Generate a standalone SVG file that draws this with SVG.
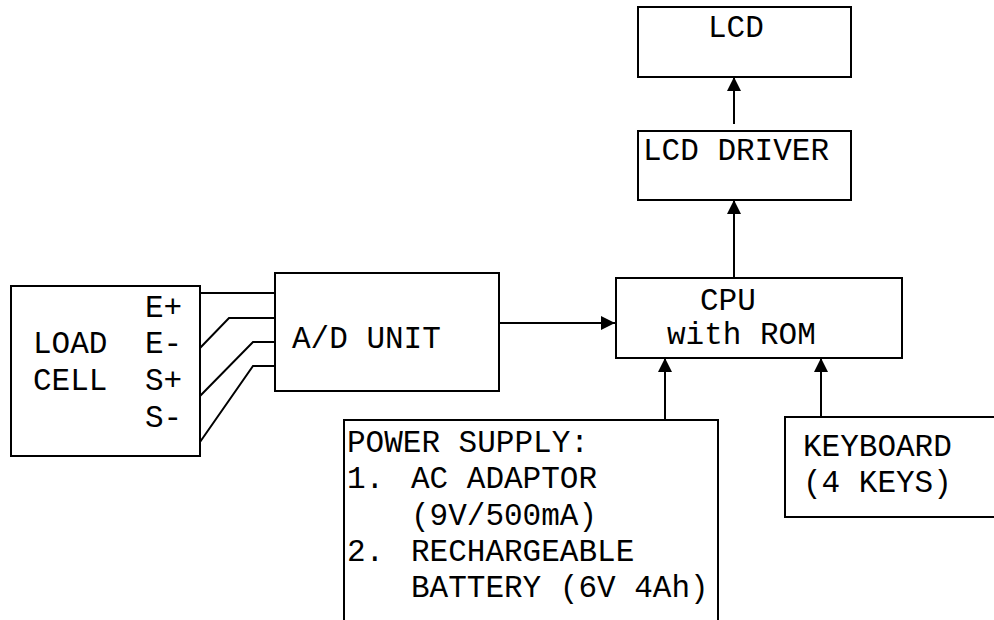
<svg xmlns="http://www.w3.org/2000/svg" width="994" height="620" viewBox="0 0 994 620">
<style>
.box{fill:#fff;stroke:#000;stroke-width:2}
.w{fill:none;stroke:#000;stroke-width:2}
text{font-family:"Liberation Mono","Courier New",monospace;font-size:31px;fill:#000}
</style>
<defs>
<marker id="ah" viewBox="0 0 14 14" refX="14" refY="7" markerWidth="14" markerHeight="14" markerUnits="userSpaceOnUse" orient="auto">
<path d="M0,0 L14,7 L0,14 Z" fill="#000"/>
</marker>
</defs>
<rect width="994" height="620" fill="#fff"/>
<g id="connectors">
<line class="w" x1="734" y1="124" x2="734" y2="77" marker-end="url(#ah)"/>
<line class="w" x1="734" y1="277" x2="734" y2="200" marker-end="url(#ah)"/>
<line class="w" x1="499" y1="323" x2="615" y2="323" marker-end="url(#ah)"/>
<line class="w" x1="665" y1="420" x2="665" y2="358" marker-end="url(#ah)"/>
<line class="w" x1="821" y1="417" x2="821" y2="358" marker-end="url(#ah)"/>
<polyline class="w" points="200,293 275,293"/>
<polyline class="w" points="200,348 229,318 275,318"/>
<polyline class="w" points="200,396 253,342 275,342"/>
<polyline class="w" points="200,442 253,366 275,366"/>
</g>
<g id="lcd">
<rect class="box" x="638" y="7" width="213" height="70"/>
<text x="708" y="37">LCD</text>
</g>
<g id="lcd-driver">
<rect class="box" x="638" y="131" width="213" height="69"/>
<text x="643" y="160">LCD DRIVER</text>
</g>
<g id="cpu">
<rect class="box" x="616" y="278" width="286" height="80"/>
<text x="700" y="310">CPU</text>
<text x="667" y="344">with ROM</text>
</g>
<g id="ad-unit">
<rect class="box" x="275" y="273" width="224" height="118"/>
<text x="292" y="348">A/D UNIT</text>
</g>
<g id="load-cell">
<rect class="box" x="11" y="286" width="189" height="170"/>
<text x="145" y="317">E+</text>
<text x="33" y="353">LOAD</text>
<text x="145" y="353">E-</text>
<text x="33" y="390">CELL</text>
<text x="145" y="390">S+</text>
<text x="145" y="427">S-</text>
</g>
<g id="power-supply">
<rect class="box" x="344" y="420" width="374" height="220"/>
<text x="347" y="452">POWER SUPPLY:</text>
<text x="347" y="488">1.</text>
<text x="411" y="488">AC ADAPTOR</text>
<text x="411" y="525">(9V/500mA)</text>
<text x="347" y="561">2.</text>
<text x="411" y="561">RECHARGEABLE</text>
<text x="411" y="597">BATTERY (6V 4Ah)</text>
</g>
<g id="keyboard">
<rect class="box" x="785" y="417" width="230" height="100"/>
<text x="803" y="456">KEYBOARD</text>
<text x="803" y="492">(4 KEYS)</text>
</g>
</svg>
